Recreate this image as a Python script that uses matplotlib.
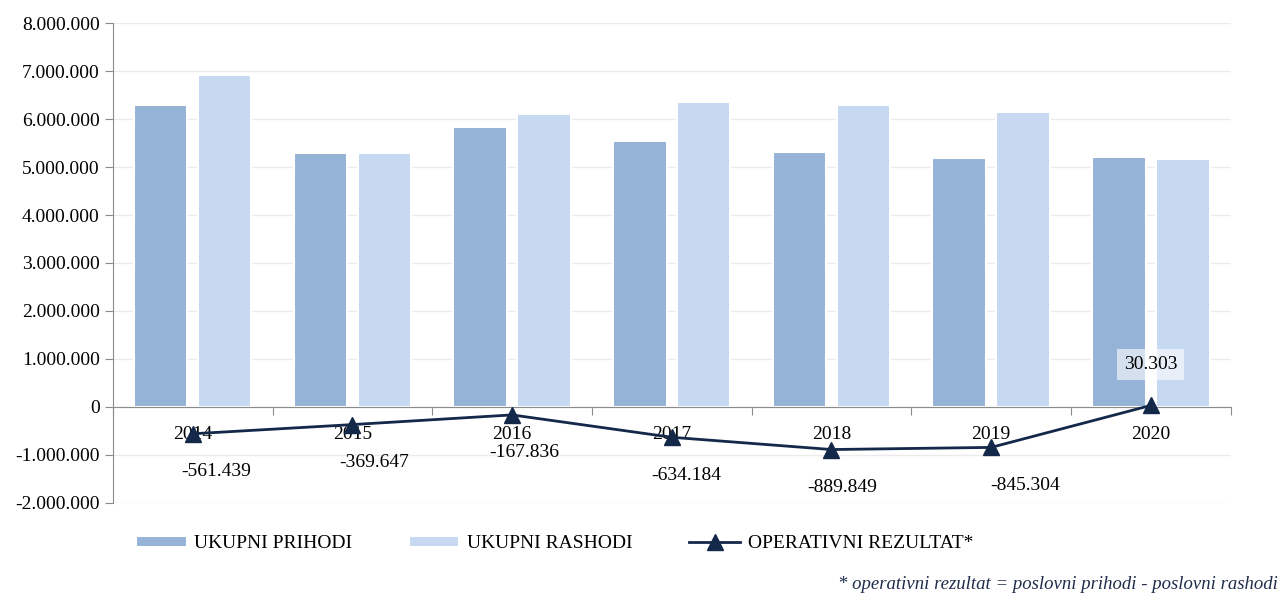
import matplotlib.pyplot as plt
import numpy as np
from matplotlib.ticker import FuncFormatter, FixedLocator

# podaci
godine = ["2014", "2015", "2016", "2017", "2018", "2019", "2020"]
prihodi = [6290000, 5290000, 5830000, 5540000, 5310000, 5190000, 5210000]
rashodi = [6920000, 5290000, 6100000, 6350000, 6290000, 6150000, 5170000]
rezultat = [-561439, -369647, -167836, -634184, -889849, -845304, 30303]

plt.rcParams['font.family'] = ['Liberation Serif', 'DejaVu Serif']

def tocke(v, pos=None):
    # format s tockom kao separatorom tisucica
    return f"{int(v):,}".replace(",", ".")

fig = plt.figure(figsize=(12.82, 5.95), dpi=100)
ax = fig.add_axes([0.088, 0.155, 0.872, 0.806])

x = np.arange(len(godine))
w = 0.335
c_pri = "#95B3D7"
c_ras = "#C6D9F1"
c_lin = "#14284A"

b1 = ax.bar(x - 0.2, prihodi, w, color=c_pri, edgecolor="white", linewidth=1.5,
            label="UKUPNI PRIHODI", zorder=2)
b2 = ax.bar(x + 0.2, rashodi, w, color=c_ras, edgecolor="white", linewidth=1.5,
            label="UKUPNI RASHODI", zorder=2)
l1, = ax.plot(x, rezultat, color=c_lin, lw=2, marker="^", markersize=11,
              label="OPERATIVNI REZULTAT*", zorder=4)

# oznake vrijednosti
pomaci = [24, 22, 12, 14, 11, 34]
for i, v in enumerate(rezultat):
    if v > 0:
        ax.annotate(tocke(v), (x[i], v), xytext=(0, 41), textcoords="offset pixels",
                    ha="center", va="center", fontsize=14, zorder=5,
                    bbox=dict(boxstyle="square,pad=0.35", fc="white", ec="none", alpha=0.6))
    else:
        ax.annotate(tocke(v), (x[i], v), xytext=(pomaci[i], -38), textcoords="offset pixels",
                    ha="center", va="center", fontsize=14, zorder=5)

ax.set_xlim(-0.5, len(godine) - 0.5)
ax.set_ylim(-2000000, 8000000)
ax.set_yticks(np.arange(-2000000, 8000001, 1000000))
ax.yaxis.set_major_formatter(FuncFormatter(tocke))
ax.grid(axis="y", color="#EBEBEB", lw=1, zorder=0)
ax.set_axisbelow(True)

# x os na nuli, crtice izmedju kategorija
ax.spines["bottom"].set_position(("data", 0))
ax.spines["bottom"].set_color("#8C8C8C")
ax.spines["left"].set_color("#8C8C8C")
ax.spines["top"].set_visible(False)
ax.spines["right"].set_visible(False)
ax.xaxis.set_major_locator(FixedLocator(np.arange(-0.5, len(godine), 1.0)))
ax.xaxis.set_major_formatter(FuncFormatter(lambda v, p: ""))
ax.xaxis.set_minor_locator(FixedLocator(x))
ax.xaxis.set_minor_formatter(FuncFormatter(lambda v, p: godine[int(round(v))]))
ax.tick_params(axis="x", which="major", length=6, color="#8C8C8C")
ax.tick_params(axis="x", which="minor", length=0, pad=14, labelsize=14)
ax.tick_params(axis="y", length=6, color="#8C8C8C", labelsize=14)

fig.legend(handles=[b1, b2, l1], loc="center left", bbox_to_anchor=(0.0925, 0.086),
           ncol=3, frameon=False, fontsize=14, handlelength=2.6, handleheight=0.55,
           columnspacing=2.9, handletextpad=0.4)

fig.text(0.997, 0.004, "* operativni rezultat = poslovni prihodi - poslovni rashodi",
         ha="right", va="bottom", fontsize=13.5, style="italic", color="#1F2D4A")

fig.savefig("out.png", dpi=100)
